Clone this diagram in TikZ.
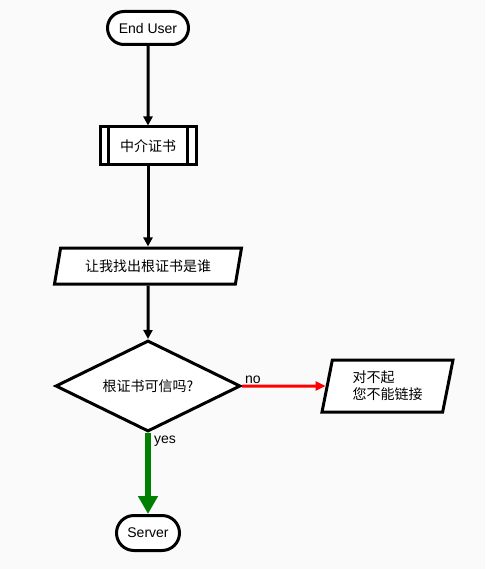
\documentclass[tikz,border=0pt]{standalone}
\usepackage{fontspec}
\setmainfont{Liberation Sans}
\newfontfamily\cjk{Noto Sans CJK SC}
\usetikzlibrary{shapes.geometric,shapes.misc,arrows.meta}
\definecolor{bgc}{RGB}{250,250,250}
\definecolor{yesgreen}{RGB}{0,128,0}
\tikzset{
  every node/.style={font=\fontsize{14}{17}\selectfont},
  base/.style={draw=black,line width=3pt,fill=white,inner sep=0pt},
  term/.style={base,rounded rectangle},
  proc/.style={base,rectangle},
  io/.style={base,trapezium,trapezium stretches body},
  decide/.style={base,diamond,aspect=2.03},
  flow/.style={line width=3pt,-{Triangle[length=9pt,width=9pt]}},
  lbl/.style={inner sep=1pt}
}
\begin{document}
\begin{tikzpicture}[x=1pt,y=-1pt]
\fill[bgc] (0,0) rectangle (485,569);
\useasboundingbox (0,0) rectangle (485,569);
\node[term,minimum width=81pt,minimum height=33pt] (user) at (148,28) {End User};
\node[proc,minimum width=96pt,minimum height=38pt] (mid) at (148,146) {\cjk 中介证书};
\draw[line width=3pt] ([xshift=10pt]mid.north west) -- ([xshift=10pt]mid.south west);
\draw[line width=3pt] ([xshift=-10pt]mid.north east) -- ([xshift=-10pt]mid.south east);
\node[io,trapezium left angle=64.7,trapezium right angle=115.3,minimum width=187pt,minimum height=36pt] (find) at (148,266) {\cjk 让我找出根证书是谁};
\node[decide,minimum width=185pt,minimum height=91pt] (q) at (148,386) {\cjk 根证书可信吗?};
\node[io,trapezium left angle=70.9,trapezium right angle=109.1,minimum width=131pt,minimum height=52pt,align=left] (sorry) at (387.5,386) {\cjk 对不起\\\cjk 您不能链接};
\node[term,minimum width=63pt,minimum height=35pt] (srv) at (148,533) {Server};
\draw[flow] (user) -- (mid);
\draw[flow] (mid) -- (find);
\draw[flow] (find) -- (q);
\draw[line width=3pt,red,-{Triangle[length=10pt,width=9pt]}] (q.east) -- (sorry) node[lbl,pos=0.13,above,black] {no};
\draw[line width=6pt,yesgreen,-{Triangle[length=18pt,width=19pt]}] (q.south) -- (srv.north) node[lbl,pos=0.1,right,black,xshift=2pt] {yes};
\end{tikzpicture}
\end{document}
